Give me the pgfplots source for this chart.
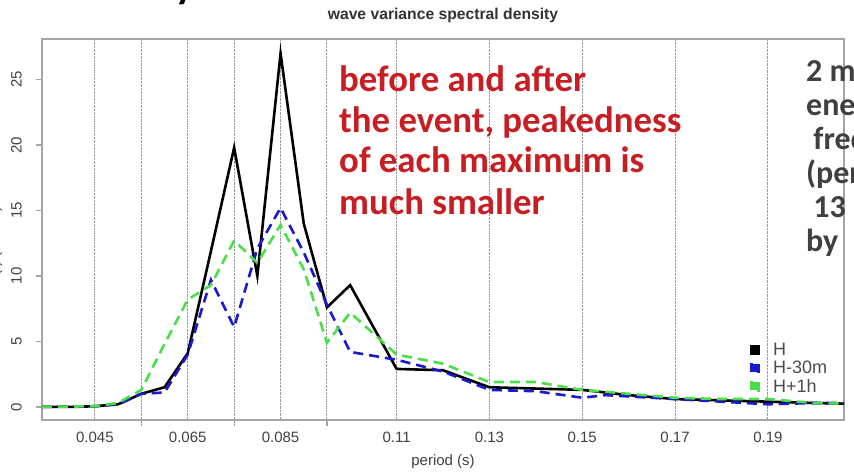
\documentclass[border=0pt]{standalone}
\usepackage{pgfplots}
\pgfplotsset{compat=1.18}
\usepackage{fontspec}
\setmainfont{Liberation Sans}
\newfontfamily\calibri{Carlito}
\definecolor{rblue}{RGB}{25,25,205}
\definecolor{rgreen}{RGB}{75,222,75}
\definecolor{redtxt}{RGB}{200,30,35}
\definecolor{graytxt}{RGB}{64,64,64}
\definecolor{framegray}{RGB}{165,165,165}

\pgfplotstableread{
x y
0.0336 0.0
0.040 0.0
0.045 0.05
0.050 0.2
0.055 1.0
0.060 1.5
0.065 4.1
0.070 11.9
0.075 19.8
0.080 10.0
0.085 27.0
0.090 14.0
0.095 7.6
0.100 9.3
0.110 2.9
0.120 2.8
0.130 1.5
0.140 1.4
0.150 1.3
0.160 0.9
0.170 0.6
0.180 0.5
0.190 0.4
0.200 0.3
0.2064 0.25
}\tabH

\pgfplotstableread{
x y
0.0336 0.0
0.045 0.05
0.050 0.2
0.055 1.0
0.060 1.1
0.065 4.0
0.070 9.7
0.075 6.1
0.080 12.1
0.085 15.2
0.090 11.8
0.095 7.8
0.100 4.2
0.110 3.6
0.120 2.7
0.130 1.3
0.140 1.2
0.150 0.7
0.155 0.9
0.170 0.6
0.180 0.4
0.190 0.2
0.200 0.3
0.2064 0.3
}\tabHm

\pgfplotstableread{
x y
0.0336 0.0
0.045 0.05
0.050 0.3
0.055 1.3
0.060 4.8
0.065 8.2
0.070 9.3
0.075 12.7
0.080 11.0
0.085 13.9
0.090 10.5
0.095 4.9
0.100 7.2
0.110 4.0
0.120 3.3
0.130 1.9
0.140 1.9
0.150 1.3
0.160 1.0
0.170 0.7
0.180 0.6
0.190 0.6
0.200 0.3
0.2064 0.25
}\tabHp

\begin{document}
\begin{tikzpicture}[x=1pt,y=1pt]
\begin{axis}[
  at={(42pt,56pt)}, anchor=south west,
  scale only axis, width=802pt, height=381pt,
  xmin=0.0336, xmax=0.2064, ymin=-1, ymax=28.1,
  axis line style={framegray, line width=1.2pt},
  /pgf/number format/assume math mode=true,
  tick label style={font=\fontsize{15}{18}\selectfont, text=black!75},
  xtick={0.055,0.075,0.095},
  xticklabels={},
  xmajorgrids=true,
  major grid style={densely dotted, black!40, line width=1pt},
  extra x ticks={0.045,0.065,0.085,0.11,0.13,0.15,0.17,0.19},
  extra x tick labels={0.045,0.065,0.085,0.11,0.13,0.15,0.17,0.19},
  extra x tick style={grid=major, xtick style={draw=none}},
  ytick={0,5,10,15,20,25},
  yticklabels={0,5,10,15,20,25},
  tick align=outside,
  major tick length=6pt,
  tick style={framegray, line width=1.2pt},
  xtick pos=bottom, ytick pos=left,
  yticklabel style={rotate=90, anchor=south, inner sep=0pt},
  yticklabel shift=14pt,
  xticklabel style={anchor=north, inner sep=0pt},
  xticklabel shift=6pt,
  legend style={draw=none, fill=none, at={(0.882,0.205)}, anchor=north west,
    font=\fontsize{18}{20}\selectfont, text=black!70, row sep=2pt, column sep=12pt,
    inner sep=0pt, nodes={inner sep=1pt}},
  legend cell align=left,
  legend image code/.code={\fill[#1] (0pt,-4pt) rectangle (8pt,4pt);},
]
\addplot[black, line width=2.6pt] table[x=x,y=y] {\tabH};
\addlegendentry{H}
\addplot[rblue, line width=2.6pt, dash pattern=on 10pt off 6pt] table[x=x,y=y] {\tabHm};
\addlegendentry{H-30m}
\addplot[rgreen, line width=2.6pt, dash pattern=on 10pt off 6pt] table[x=x,y=y] {\tabHp};
\addlegendentry{H+1h}
\end{axis}

% chart title and axis labels
\node[anchor=base, font=\bfseries\fontsize{15.7}{18}\selectfont, text=black!80] at (443,456) {wave variance spectral density};
\node[anchor=base, font=\fontsize{15}{18}\selectfont, text=black!75] at (443,10) {period (s)};
\node[anchor=base, rotate=90, font=\fontsize{15}{18}\selectfont, text=black!70] at (-1,230) {S(f) (m\textsuperscript{2}/Hz)};

% slide title fragment
\node[anchor=base east, inner sep=0pt, font=\calibri\bfseries\fontsize{40}{44}\selectfont] at (195,477) {y};

% red annotation
\begin{scope}[every node/.style={anchor=base west, inner sep=0pt, text=redtxt, font=\calibri\bfseries\fontsize{36.8}{40}\selectfont}]
\node at (339,384) {before and after};
\node at (339,343) {the event, peakedness};
\node at (339,303) {of each maximum is};
\node at (339,261) {much smaller};
\end{scope}

% right-hand slide text (cut off by the picture edge)
\begin{scope}[every node/.style={anchor=base west, inner sep=0pt, text=graytxt, font=\calibri\bfseries\fontsize{32}{34}\selectfont}]
\node at (806,394) {2 main};
\node at (806,360) {energy};
\node at (806,326) {\ frequencies};
\node at (806,292) {(periods};
\node at (806,258) {\ 13 s};
\node at (806,224) {by};
\end{scope}

\pgfresetboundingbox
\path[use as bounding box] (0,0) rectangle (854,476);
\end{tikzpicture}
\end{document}
